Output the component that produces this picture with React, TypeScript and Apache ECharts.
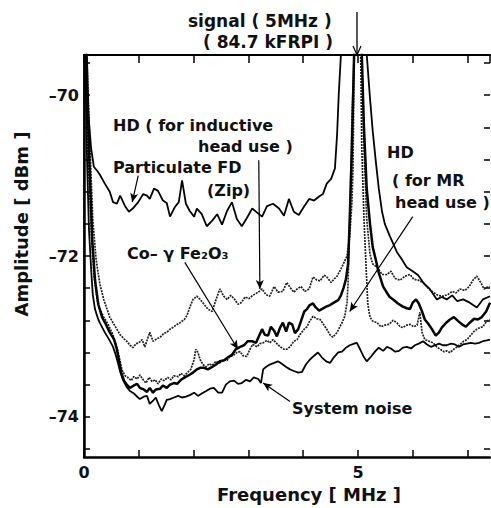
import React, { useEffect, useRef } from "react";
import * as echarts from "echarts";

// x: frequency [MHz], y: amplitude [dBm]
const particulateFD: [number, number][] = [
  [0.02, -69.3], [0.07, -70.16], [0.13, -70.66], [0.18, -70.89], [0.24, -70.94], [0.29, -70.99],
  [0.38, -71.1], [0.47, -71.2], [0.53, -71.33], [0.6, -71.35], [0.66, -71.25], [0.75, -71.38],
  [0.82, -71.45], [0.89, -71.41], [0.99, -71.33], [1.08, -71.23], [1.15, -71.25], [1.2, -71.29],
  [1.28, -71.16], [1.35, -71.19], [1.44, -71.31], [1.51, -71.34], [1.57, -71.51], [1.66, -71.39],
  [1.73, -71.33], [1.79, -71.06], [1.86, -71.35], [1.93, -71.44], [2.01, -71.51], [2.06, -71.41],
  [2.15, -71.48], [2.24, -71.63], [2.34, -71.56], [2.43, -71.48], [2.52, -71.61], [2.61, -71.44],
  [2.7, -71.33], [2.79, -71.54], [2.88, -71.63], [2.97, -71.53], [3.07, -71.41], [3.16, -71.46],
  [3.25, -71.51], [3.34, -71.38], [3.45, -71.35], [3.56, -71.41], [3.65, -71.5], [3.74, -71.29],
  [3.83, -71.45], [3.92, -71.49], [4.02, -71.38], [4.11, -71.29], [4.2, -71.31], [4.29, -71.26],
  [4.36, -71.23], [4.43, -71.1], [4.51, -71.04], [4.58, -70.91], [4.62, -70.48], [4.65, -69.98],
  [4.69, -69.49], [5.0, -68.0], [5.16, -69.49], [5.22, -70.04], [5.27, -70.45], [5.33, -70.85],
  [5.38, -71.16], [5.44, -71.45], [5.49, -71.6], [5.58, -71.75], [5.71, -71.95], [5.8, -72.04],
  [5.89, -72.14], [6.0, -72.19], [6.1, -72.24], [6.19, -72.33], [6.31, -72.41], [6.44, -72.54],
  [6.53, -72.51], [6.62, -72.54], [6.72, -72.49], [6.81, -72.56], [6.92, -72.54], [7.04, -72.58],
  [7.17, -72.64], [7.28, -72.54], [7.41, -72.5],
];

const hdInductive: [number, number][] = [
  [0.04, -69.3], [0.11, -70.66], [0.16, -71.54], [0.22, -72.04], [0.29, -72.35], [0.36, -72.54],
  [0.42, -72.66], [0.47, -72.76], [0.53, -72.83], [0.6, -72.91], [0.66, -72.98], [0.73, -73.03],
  [0.78, -73.06], [0.84, -73.11], [0.89, -73.14], [0.95, -73.09], [1.0, -73.08], [1.06, -73.04],
  [1.11, -73.13], [1.17, -73.01], [1.2, -72.95], [1.26, -73.06], [1.33, -73.03], [1.39, -73.01],
  [1.46, -72.96], [1.51, -72.95], [1.57, -72.91], [1.62, -72.89], [1.7, -72.85], [1.75, -72.83],
  [1.83, -72.79], [1.88, -72.74], [1.93, -72.64], [1.99, -72.54], [2.06, -72.5], [2.12, -72.54],
  [2.19, -72.6], [2.26, -72.66], [2.34, -72.69], [2.41, -72.54], [2.48, -72.41], [2.55, -72.5],
  [2.61, -72.54], [2.68, -72.49], [2.74, -72.53], [2.81, -72.6], [2.87, -72.58], [2.94, -72.51],
  [3.01, -72.53], [3.08, -72.49], [3.18, -72.45], [3.25, -72.41], [3.32, -72.48], [3.39, -72.5],
  [3.47, -72.38], [3.54, -72.45], [3.63, -72.44], [3.7, -72.33], [3.76, -72.39], [3.83, -72.45],
  [3.89, -72.41], [3.96, -72.38], [4.03, -72.44], [4.11, -72.41], [4.18, -72.26], [4.25, -72.3],
  [4.31, -72.31], [4.38, -72.24], [4.43, -72.26], [4.51, -72.33], [4.56, -72.29], [4.62, -72.25],
  [4.69, -72.16], [4.74, -72.09], [4.8, -72.0], [4.85, -71.75], [4.89, -71.33], [4.91, -70.91],
  [4.93, -69.49], [5.01, -68.0], [5.07, -69.49], [5.11, -70.66], [5.16, -71.54], [5.22, -71.98],
  [5.27, -72.1], [5.35, -72.14], [5.44, -72.23], [5.53, -72.23], [5.6, -72.19], [5.68, -72.28],
  [5.77, -72.3], [5.86, -72.25], [5.95, -72.23], [6.02, -72.29], [6.1, -72.3], [6.19, -72.33],
  [6.28, -72.4], [6.37, -72.45], [6.46, -72.49], [6.55, -72.5], [6.64, -72.48], [6.72, -72.44],
  [6.79, -72.46], [6.86, -72.41], [6.95, -72.43], [7.03, -72.38], [7.1, -72.3], [7.17, -72.25],
  [7.25, -72.34], [7.3, -72.41], [7.35, -72.39], [7.41, -72.38],
];

const coFe2O3: [number, number][] = [
  [0.04, -69.3], [0.09, -70.66], [0.15, -71.79], [0.2, -72.29], [0.26, -72.6], [0.33, -72.76],
  [0.4, -72.85], [0.47, -72.95], [0.55, -73.04], [0.6, -73.16], [0.64, -73.31], [0.68, -73.45],
  [0.73, -73.55], [0.78, -73.6], [0.84, -73.64], [0.91, -73.61], [0.97, -73.59], [1.02, -73.64],
  [1.09, -73.66], [1.15, -73.69], [1.2, -73.64], [1.26, -73.7], [1.31, -73.66], [1.39, -73.65],
  [1.44, -73.61], [1.51, -73.64], [1.57, -73.6], [1.64, -73.58], [1.7, -73.59], [1.77, -73.54],
  [1.84, -73.51], [1.92, -73.48], [1.99, -73.45], [2.06, -73.41], [2.12, -73.39], [2.19, -73.39],
  [2.26, -73.41], [2.34, -73.38], [2.41, -73.35], [2.48, -73.31], [2.55, -73.3], [2.63, -73.26],
  [2.7, -73.23], [2.77, -73.16], [2.85, -73.13], [2.92, -73.11], [2.99, -73.06], [3.07, -73.06],
  [3.14, -73.08], [3.19, -73.0], [3.25, -72.91], [3.3, -72.98], [3.36, -72.99], [3.41, -72.88],
  [3.47, -72.93], [3.52, -73.0], [3.58, -72.89], [3.63, -72.83], [3.69, -72.94], [3.74, -72.83],
  [3.8, -72.85], [3.85, -72.96], [3.91, -72.91], [3.96, -72.81], [4.02, -72.69], [4.07, -72.66],
  [4.12, -72.61], [4.18, -72.59], [4.23, -72.64], [4.29, -72.68], [4.34, -72.66], [4.42, -72.63],
  [4.49, -72.61], [4.56, -72.58], [4.64, -72.55], [4.69, -72.49], [4.74, -72.39], [4.78, -72.29],
  [4.82, -72.1], [4.85, -71.54], [4.89, -70.66], [4.93, -69.49], [5.0, -68.0], [5.07, -69.49],
  [5.11, -70.41], [5.16, -71.16], [5.22, -71.6], [5.27, -71.89], [5.33, -72.06], [5.38, -72.21],
  [5.46, -72.38], [5.53, -72.46], [5.58, -72.51], [5.66, -72.55], [5.73, -72.59], [5.82, -72.63],
  [5.89, -72.65], [5.95, -72.66], [6.0, -72.58], [6.06, -72.54], [6.11, -72.59], [6.17, -72.69],
  [6.22, -72.79], [6.28, -72.84], [6.35, -72.91], [6.42, -72.99], [6.48, -72.95], [6.53, -72.89],
  [6.61, -72.83], [6.68, -72.79], [6.75, -72.76], [6.83, -72.81], [6.9, -72.85], [6.97, -72.88],
  [7.04, -72.83], [7.12, -72.78], [7.19, -72.79], [7.26, -72.76], [7.34, -72.69], [7.41, -72.58],
];

const hdMR: [number, number][] = [
  [0.02, -69.3], [0.07, -70.66], [0.13, -71.66], [0.18, -72.23], [0.24, -72.54], [0.29, -72.66],
  [0.36, -72.76], [0.44, -72.85], [0.51, -72.95], [0.57, -73.06], [0.62, -73.19], [0.66, -73.31],
  [0.69, -73.41], [0.75, -73.49], [0.8, -73.51], [0.86, -73.55], [0.91, -73.5], [0.97, -73.53],
  [1.02, -73.48], [1.08, -73.54], [1.13, -73.58], [1.19, -73.51], [1.24, -73.56], [1.3, -73.54],
  [1.35, -73.59], [1.41, -73.53], [1.46, -73.55], [1.53, -73.51], [1.59, -73.54], [1.64, -73.49],
  [1.72, -73.5], [1.77, -73.46], [1.83, -73.49], [1.9, -73.44], [1.95, -73.41], [2.01, -73.29],
  [2.04, -73.16], [2.08, -73.2], [2.12, -73.29], [2.17, -73.35], [2.23, -73.38], [2.28, -73.34],
  [2.34, -73.36], [2.41, -73.31], [2.48, -73.33], [2.54, -73.29], [2.61, -73.3], [2.66, -73.25],
  [2.72, -73.24], [2.79, -73.2], [2.85, -73.19], [2.9, -73.24], [2.97, -73.25], [3.03, -73.16],
  [3.08, -73.1], [3.16, -73.13], [3.21, -73.09], [3.27, -73.08], [3.34, -73.05], [3.39, -73.08],
  [3.45, -73.04], [3.52, -73.09], [3.58, -73.13], [3.65, -73.16], [3.7, -73.16], [3.76, -73.13],
  [3.83, -73.06], [3.89, -73.04], [3.94, -72.98], [4.02, -72.91], [4.07, -72.88], [4.12, -72.81],
  [4.18, -72.75], [4.25, -72.78], [4.31, -72.79], [4.38, -72.86], [4.43, -72.91], [4.49, -72.98],
  [4.54, -73.01], [4.62, -72.95], [4.67, -72.88], [4.71, -72.83], [4.76, -72.75], [4.8, -72.58],
  [4.82, -72.33], [4.85, -71.54], [4.89, -70.29], [4.93, -69.49], [4.99, -68.0], [5.05, -69.49],
  [5.07, -70.66], [5.11, -71.54], [5.15, -72.16], [5.18, -72.6], [5.22, -72.76], [5.27, -72.81],
  [5.35, -72.83], [5.42, -72.88], [5.49, -72.86], [5.57, -72.85], [5.64, -72.8], [5.71, -72.83],
  [5.77, -72.88], [5.82, -72.89], [5.89, -72.86], [5.95, -72.85], [6.02, -72.88], [6.08, -72.86],
  [6.11, -72.76], [6.13, -72.7], [6.17, -72.95], [6.22, -73.04], [6.3, -73.06], [6.37, -73.08],
  [6.44, -73.13], [6.5, -73.16], [6.57, -73.19], [6.62, -73.18], [6.68, -73.2], [6.75, -73.16],
  [6.81, -73.13], [6.88, -73.09], [6.93, -73.06], [6.99, -73.04], [7.04, -73.0], [7.1, -72.95],
  [7.17, -72.91], [7.23, -72.89], [7.28, -72.88], [7.35, -72.81], [7.41, -72.79],
];

const systemNoise: [number, number][] = [
  [0.02, -69.3], [0.05, -70.66], [0.09, -71.66], [0.13, -72.16], [0.16, -72.48], [0.2, -72.66],
  [0.26, -72.79], [0.31, -72.86], [0.38, -72.95], [0.46, -73.04], [0.53, -73.13], [0.58, -73.23],
  [0.62, -73.33], [0.66, -73.44], [0.71, -73.54], [0.78, -73.63], [0.84, -73.68], [0.91, -73.71],
  [0.97, -73.75], [1.02, -73.78], [1.09, -73.75], [1.15, -73.74], [1.2, -73.84], [1.26, -73.8],
  [1.31, -73.76], [1.37, -73.86], [1.42, -73.93], [1.48, -73.84], [1.51, -73.79], [1.57, -73.78],
  [1.64, -73.76], [1.72, -73.74], [1.79, -73.76], [1.86, -73.75], [1.93, -73.73], [2.01, -73.7],
  [2.08, -73.74], [2.15, -73.71], [2.23, -73.68], [2.3, -73.65], [2.37, -73.64], [2.45, -73.7],
  [2.52, -73.7], [2.59, -73.6], [2.66, -73.56], [2.74, -73.55], [2.81, -73.59], [2.88, -73.58],
  [2.96, -73.54], [3.03, -73.56], [3.1, -73.51], [3.18, -73.53], [3.23, -73.58], [3.27, -73.41],
  [3.32, -73.38], [3.39, -73.35], [3.47, -73.33], [3.54, -73.31], [3.61, -73.34], [3.69, -73.38],
  [3.76, -73.41], [3.83, -73.43], [3.91, -73.45], [3.98, -73.44], [4.05, -73.35], [4.12, -73.29],
  [4.2, -73.24], [4.27, -73.2], [4.34, -73.26], [4.42, -73.31], [4.49, -73.33], [4.56, -73.26],
  [4.64, -73.2], [4.71, -73.19], [4.78, -73.14], [4.85, -73.11], [4.93, -73.09], [4.98, -73.08],
  [5.04, -73.16], [5.11, -73.26], [5.16, -73.31], [5.24, -73.25], [5.31, -73.19], [5.38, -73.14],
  [5.46, -73.18], [5.53, -73.13], [5.6, -73.15], [5.68, -73.19], [5.75, -73.18], [5.82, -73.14],
  [5.89, -73.13], [5.97, -73.15], [6.04, -73.11], [6.11, -73.09], [6.19, -73.06], [6.26, -73.1],
  [6.33, -73.13], [6.41, -73.11], [6.48, -73.09], [6.55, -73.11], [6.62, -73.11], [6.7, -73.09],
  [6.77, -73.1], [6.84, -73.13], [6.92, -73.1], [6.99, -73.09], [7.06, -73.08], [7.14, -73.09],
  [7.21, -73.08], [7.28, -73.06], [7.35, -73.05], [7.41, -73.04],
];

// axes
const xRange = [0, 7.41];
const xTickStep = 1;
const xTickLabels = [0, 5];
const yRange = [-74.5, -69.5];
const yTickRange = [-74.4, -69.6];
const yTickStep = 0.4;
const yTickLabels = [-74, -72, -70];

// annotation arrows [from, to] in data units
const arrows: [[number, number], [number, number]][] = [
  [[0.99, -71.0], [0.88, -71.33]],
  [[3.19, -70.81], [3.21, -72.41]],
  [[1.84, -72.08], [2.81, -73.16]],
  [[6.0, -71.51], [4.85, -72.69]],
  [[3.76, -73.81], [3.27, -73.58]],
];

const FONT = '"DejaVu Sans", "Liberation Sans", sans-serif';

export default function App() {
  const ref = useRef<HTMLDivElement>(null);
  useEffect(() => {
    document.body.style.margin = "0";
    const chart = echarts.init(ref.current!, undefined, { renderer: "svg" });
    const txt = (text: string, x: number, y: number, size = 16, extra: any = {}) => ({
      type: "text",
      x,
      y,
      silent: true,
      style: {
        text,
        fill: "#111",
        fontFamily: FONT,
        fontWeight: "bold",
        fontSize: size,
        textAlign: "left",
        textVerticalAlign: "middle",
        ...extra,
      },
    });
    const dotted = (name: string, data: [number, number][], z: number) => ({
      type: "line",
      name,
      data,
      showSymbol: false,
      symbol: "none",
      clip: true,
      z,
      lineStyle: { color: "#222", width: 1.7, type: [2, 1] },
    });
    const solid = (name: string, data: [number, number][], z: number, width: number) => ({
      type: "line",
      name,
      data,
      showSymbol: false,
      symbol: "none",
      clip: true,
      z,
      lineStyle: { color: "#050505", width },
    });
    const axisLabelStyle = {
      fontFamily: FONT,
      fontWeight: "bold",
      fontSize: 16,
      color: "#111",
    };
    const tickStyle = { color: "#000", width: 1.5 };
    // pixel layout of the tick-only grid: maps yTickRange onto the same scale as yRange
    const H = 508, top = 55, bottom = 51;
    const plotH = H - top - bottom;
    const pxPerUnit = plotH / (yRange[1] - yRange[0]);
    const top2 = top + (yRange[1] - yTickRange[1]) * pxPerUnit;
    const bottom2 = bottom + (yTickRange[0] - yRange[0]) * pxPerUnit;
    const option: any = {
      animation: false,
      backgroundColor: "#fff",
      grid: [
        { left: 84, right: 1, top, bottom },
        { left: 84, right: 1, top: top2, bottom: bottom2 },
      ],
      xAxis: [
        {
          type: "value",
          gridIndex: 0,
          position: "bottom",
          min: xRange[0],
          max: xRange[1],
          interval: xTickStep,
          splitLine: { show: false },
          axisLine: { lineStyle: { color: "#000", width: 2.5 } },
          axisTick: { inside: true, length: 7, lineStyle: tickStyle },
          axisLabel: {
            ...axisLabelStyle,
            margin: 7,
            showMaxLabel: false,
            formatter: (v: number) => (xTickLabels.includes(v) ? String(v) : ""),
          },
        },
        {
          type: "value",
          gridIndex: 0,
          position: "top",
          min: xRange[0],
          max: xRange[1],
          interval: xTickStep,
          splitLine: { show: false },
          axisLine: { lineStyle: { color: "#000", width: 2 } },
          axisTick: { inside: true, length: 8, lineStyle: tickStyle },
          axisLabel: { show: false },
        },
        {
          type: "value",
          gridIndex: 1,
          min: xRange[0],
          max: xRange[1],
          show: false,
        },
      ],
      yAxis: [
        {
          type: "value",
          gridIndex: 0,
          position: "left",
          min: yRange[0],
          max: yRange[1],
          splitLine: { show: false },
          axisLine: { lineStyle: { color: "#000", width: 2.5 } },
          axisTick: { show: false },
          axisLabel: { show: false },
        },
        {
          type: "value",
          gridIndex: 0,
          position: "right",
          min: yRange[0],
          max: yRange[1],
          splitLine: { show: false },
          axisLine: { lineStyle: { color: "#000", width: 1.5 } },
          axisTick: { show: false },
          axisLabel: { show: false },
        },
        {
          type: "value",
          gridIndex: 1,
          position: "left",
          min: yTickRange[0],
          max: yTickRange[1],
          interval: yTickStep,
          splitLine: { show: false },
          axisLine: { show: false },
          axisTick: { inside: true, length: 6, lineStyle: tickStyle },
          axisLabel: {
            ...axisLabelStyle,
            margin: 5,
            formatter: (v: number) => {
              const r = Math.round(v * 10) / 10;
              return yTickLabels.includes(r) ? "\u2013" + Math.abs(r) : "";
            },
          },
        },
        {
          type: "value",
          gridIndex: 1,
          position: "right",
          min: yTickRange[0],
          max: yTickRange[1],
          interval: yTickStep,
          splitLine: { show: false },
          axisLine: { show: false },
          axisTick: { inside: true, length: 6, lineStyle: tickStyle },
          axisLabel: { show: false },
        },
      ],
      series: [
        dotted("HD (for inductive head use)", hdInductive, 2),
        dotted("HD (for MR head use)", hdMR, 2),
        solid("Particulate FD (Zip)", particulateFD, 3, 1.8),
        solid("Co-γFe2O3", coFe2O3, 4, 2.5),
        {
          ...solid("System noise", systemNoise, 3, 1.8),
          markLine: {
            silent: true,
            animation: false,
            symbol: ["none", "arrow"],
            symbolSize: [6, 9],
            label: { show: false },
            lineStyle: { color: "#000", width: 1.2, type: "solid" },
            data: arrows.map(([a, b]) => [{ coord: a }, { coord: b }]),
          },
        },
      ],
      graphic: [
        txt("signal ( 5MHz )", 188, 21, 17),
        txt("( 84.7 kFRPI )", 203, 42, 17),
        { type: "line", silent: true, shape: { x1: 357, y1: 12, x2: 357, y2: 55 }, style: { stroke: "#000", lineWidth: 1.3 } },
        { type: "polyline", silent: true, shape: { points: [[353, 46], [357, 55], [361, 46]] }, style: { stroke: "#000", fill: "none", lineWidth: 1.2 } },
        txt("HD ( for inductive", 113, 125, 16),
        txt("head use )", 198, 146, 16),
        txt("Particulate FD", 113, 167, 16),
        txt("(Zip)", 207, 190, 16),
        txt("HD", 387, 152, 16),
        txt("( for MR", 392, 180, 16),
        txt("head use )", 395, 202, 16),
        txt("Co\u2013 \u03b3 Fe\u2082O\u2083", 127, 253, 16),
        txt("System noise", 292, 408, 16),
        txt("Frequency [ MHz ]", 217, 494, 18),
        {
          ...txt("Amplitude [ dBm ]", 21, 224, 18, { textAlign: "center" }),
          rotation: Math.PI / 2,
        },
      ],
    };
    chart.setOption(option);
    return () => chart.dispose();
  }, []);
  return <div ref={ref} style={{ position: "fixed", left: 0, top: 0, width: 491, height: 508 }} />;
}
